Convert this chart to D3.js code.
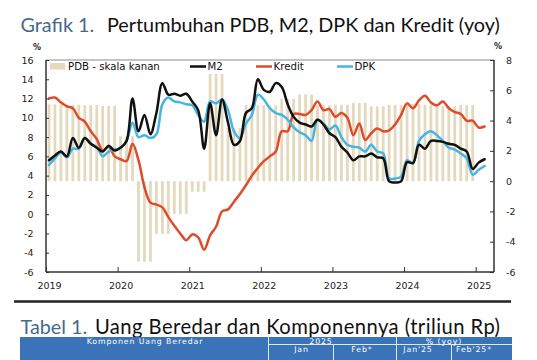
<!DOCTYPE html>
<html><head><meta charset="utf-8">
<script src="https://cdn.jsdelivr.net/npm/d3@7/dist/d3.min.js"></script>
<style>body{margin:0;background:#fff}svg{display:block}</style>
</head><body><svg id="c" width="537" height="360"></svg>
<script>
// ---------- data ----------
const startYear = 2019; // monthly series start Jan 2019, end Feb 2025
const yearTicks = [2019, 2020, 2021, 2022, 2023, 2024, 2025];
const leftTicks = [-6, -4, -2, 0, 2, 4, 6, 8, 10, 12, 14, 16];
const rightTicks = [-6, -4, -2, 0, 2, 4, 6, 8];
// PDB (GDP) yoy, quarterly 2019Q1..2024Q4 (right scale)
const pdbQuarterly = [5.07, 5.05, 5.02, 4.97, 2.97, -5.32, -3.49, -2.17, -0.70, 7.07, 3.51, 5.02,
  5.01, 5.44, 5.72, 5.01, 5.04, 5.17, 4.94, 5.04, 5.11, 5.05, 4.95, 5.02];
const m2 = [
  5.6, 6.1, 6.5, 6.0, 7.9, 6.9, 7.9, 7.3, 6.9, 6.5, 7.1, 6.6,
  6.9, 7.6, 12.0, 8.6, 10.3, 8.3, 10.5, 13.6, 12.4, 12.5, 12.3, 12.5,
  11.7, 10.8, 6.8, 11.5, 8.2, 11.9, 9.5, 7.2, 7.6, 10.5, 11.0, 14.0,
  12.9, 12.7, 13.6, 13.2, 11.4, 10.1, 9.5, 9.3, 9.1, 9.8, 9.3, 8.4,
  8.0, 7.0, 6.4, 5.6, 6.0, 6.0, 6.3, 5.9, 5.8, 3.4, 3.3, 3.4,
  5.4, 5.3, 7.2, 6.8, 7.6, 7.6, 7.5, 7.3, 7.2, 6.8, 6.5, 4.7,
  5.35, 5.7];
const kredit = [
  12.0, 12.1, 11.6, 11.2, 11.0, 10.0, 9.6, 8.6, 7.8, 6.6, 7.0, 6.0,
  5.7, 5.5, 7.3, 5.6, 2.8, 1.2, 1.0, 0.7, -0.3, -1.2, -2.0, -2.7,
  -2.1, -2.4, -3.7, -2.2, -1.3, 0.3, 0.5, 1.3, 2.1, 3.0, 4.0, 4.8,
  5.5, 6.0, 6.5, 8.6, 8.6, 10.4, 10.4, 10.3, 10.8, 11.7, 10.8, 10.9,
  10.1, 10.5, 10.0, 8.2, 9.4, 7.7, 8.4, 8.9, 8.6, 8.7, 9.3, 10.3,
  11.5, 11.0, 11.8, 12.3, 11.6, 11.3, 11.7, 11.0, 10.6, 10.4, 9.7, 9.7,
  9.0, 9.1];
const dpk = [
  5.1, 5.8, 6.4, 5.9, 6.8, 6.8, 7.9, 7.3, 7.0, 6.0, 6.5, 6.7,
  6.9, 7.6, 9.5, 8.0, 8.2, 7.9, 8.3, 11.4, 12.1, 11.7, 11.6, 11.4,
  11.3, 10.3, 9.6, 11.7, 11.5, 11.9, 10.8, 8.6, 7.9, 9.4, 10.3, 12.4,
  11.9, 11.0, 10.5, 10.3, 9.8, 9.0, 8.5, 8.2, 7.6, 9.8, 9.4, 8.8,
  9.2, 8.0, 7.2, 7.0, 6.9, 6.5, 7.2, 6.5, 6.3, 3.7, 3.7, 3.9,
  5.6, 5.3, 7.6, 8.3, 8.6, 8.2, 7.6, 6.9, 6.7, 6.3, 5.8, 4.1,
  4.6, 5.0];
const legendLabels = ["PDB - skala kanan", "M2", "Kredit", "DPK"];
const tableHead1 = ["Komponen Uang Beredar", "2025", "% (yoy)"];
const tableHead2 = ["Jan", "Feb*", "Jan'25", "Feb'25*"];

// ---------- style ----------
const colM2 = "#111111", colKredit = "#df4c2c", colDPK = "#45b5e3", colPDB = "#e4d9bd";
const titleBlue = "#466a8a";
const svg = d3.select("#c");
const L = 46, R = 494, T = 60, B = 272;

const x = d3.scaleLinear().domain([2019, 2025.256]).range([L, R]);
const yL = d3.scaleLinear().domain([-6, 16]).range([B, T]);
const yR = d3.scaleLinear().domain([-6, 8]).range([B, T]);
const mx = i => x(startYear + (i + 0.5) / 12);

// titles
const tMain1 = svg.append("text").attr("x", 107).attr("y", 32).attr("fill", "#111")
  .style("font-family", "Lato").style("font-size", "20px").text("Pertumbuhan PDB, M2, DPK dan Kredit (yoy)");
const titleSize = 20 * (500 - 107) / tMain1.node().getComputedTextLength();
tMain1.style("font-size", titleSize + "px");
svg.append("text").attr("x", 20.5).attr("y", 32).attr("fill", titleBlue)
  .style("font-family", "Lato").style("font-size", titleSize + "px").text("Grafik 1.");

// bars (PDB monthly repetition of quarterly value)
const pdbMonthly = [];
pdbQuarterly.forEach((v, q) => { for (let k = 0; k < 3; k++) pdbMonthly.push({ i: q * 3 + k, v }); });
svg.append("g").selectAll("rect").data(pdbMonthly).join("rect")
  .attr("x", d => mx(d.i) - 1.4).attr("width", 2.8)
  .attr("y", d => Math.min(yR(d.v), yR(0))).attr("height", d => Math.abs(yR(d.v) - yR(0)))
  .attr("fill", colPDB);

// lines
const line = d3.line().x((d, i) => mx(i)).y(d => yL(d)).curve(d3.curveCatmullRom.alpha(0.5));
[[kredit, colKredit], [dpk, colDPK], [m2, colM2]].forEach(([s, c]) => {
  svg.append("path").attr("d", line(s)).attr("fill", "none").attr("stroke", c)
    .attr("stroke-width", 2.5).attr("stroke-linejoin", "round").attr("stroke-linecap", "round");
});

// frame
svg.append("line").attr("x1", L).attr("x2", R).attr("y1", T).attr("y2", T).attr("stroke", "#8a8a8a").attr("stroke-width", 1);

const fontAx = "DejaVu Sans";
const fmt = d => String(d);
const gL = svg.append("g").attr("transform", `translate(${L},0)`)
  .call(d3.axisLeft(yL).tickValues(leftTicks).tickSize(-3).tickPadding(12.5).tickFormat(fmt));
const gR = svg.append("g").attr("transform", `translate(${R},0)`)
  .call(d3.axisRight(yR).tickValues(rightTicks).tickSize(-4).tickPadding(12).tickFormat(fmt));
const gB = svg.append("g").attr("transform", `translate(0,${B})`)
  .call(d3.axisBottom(x).tickValues(yearTicks).tickSize(-5).tickPadding(10).tickFormat(fmt));
[gL, gR, gB].forEach(g => {
  g.select(".domain").attr("stroke", "#333").attr("stroke-width", 1.5);
  g.selectAll(".tick line").attr("stroke", "#333").attr("stroke-width", 1);
  g.selectAll("text").attr("fill", "#222").style("font-family", fontAx).style("font-size", "9.5px");
});
gL.select(".domain").attr("d", `M0,${T}V${B}`);
gR.select(".domain").attr("d", `M0,${T}V${B}`);
gB.select(".domain").attr("d", `M${L},0H${R}`);
gB.selectAll("text").attr("dx", 3);

svg.append("text").attr("x", 37).attr("y", 50).attr("text-anchor", "middle")
  .style("font-family", fontAx).style("font-size", "8px").style("font-weight", "bold").attr("fill", "#222").text("%");
svg.append("text").attr("x", 498).attr("y", 48.5).attr("text-anchor", "middle")
  .style("font-family", fontAx).style("font-size", "8px").style("font-weight", "bold").attr("fill", "#222").text("%");

// legend
const lg = svg.append("g").style("font-family", fontAx).style("font-size", "10.2px").attr("fill", "#111");
lg.append("rect").attr("x", 50).attr("y", 63).attr("width", 15).attr("height", 6.5).attr("fill", colPDB);
lg.append("text").attr("x", 68).attr("y", 70).text(legendLabels[0]);
[[190, colM2, legendLabels[1]], [256, colKredit, legendLabels[2]], [337, colDPK, legendLabels[3]]].forEach(([lx, c, t]) => {
  lg.append("line").attr("x1", lx).attr("x2", lx + 16).attr("y1", 66.5).attr("y2", 66.5).attr("stroke", c).attr("stroke-width", 2.5);
  lg.append("text").attr("x", lx + 17.5).attr("y", 70).text(t);
});

// separator + table title
svg.append("line").attr("x1", 14).attr("x2", 511).attr("y1", 301.5).attr("y2", 301.5).attr("stroke", "#222").attr("stroke-width", 2.5);
svg.append("text").attr("x", 20.5).attr("y", 334).attr("fill", titleBlue)
  .style("font-family", "Lato").style("font-size", titleSize + "px").text("Tabel 1.");
svg.append("text").attr("x", 95).attr("y", 334).attr("fill", "#111")
  .attr("textLength", 405).attr("lengthAdjust", "spacing")
  .style("font-family", "Lato").style("font-size", (titleSize * 1.02) + "px").text("Uang Beredar dan Komponennya (triliun Rp)");

// table header
const th = svg.append("g");
th.append("rect").attr("x", 20).attr("y", 337).attr("width", 492).attr("height", 23).attr("fill", "#3a73b7");
const wl = (x1, y1, x2, y2) => th.append("line").attr("x1", x1).attr("y1", y1).attr("x2", x2).attr("y2", y2).attr("stroke", "#dfe8f3").attr("stroke-width", 1);
wl(268.5, 337, 268.5, 360); wl(396.5, 337, 396.5, 360); wl(268.5, 344.5, 512, 344.5);
wl(333.5, 344.5, 333.5, 360); wl(451.5, 344.5, 451.5, 360);
const tt = (tx, ty, s) => th.append("text").attr("x", tx).attr("y", ty).attr("text-anchor", "middle")
  .style("font-family", fontAx).style("font-size", "7.8px").style("letter-spacing", "0.9px").attr("fill", "#fff").text(s);
tt(145, 344.2, tableHead1[0]); tt(321, 343.6, tableHead1[1]); tt(444, 343.6, tableHead1[2]);
tt(301.5, 351.8, tableHead2[0]); tt(362, 351.8, tableHead2[1]); tt(418, 351.8, tableHead2[2]); tt(474, 351.8, tableHead2[3]);
</script></body></html>
